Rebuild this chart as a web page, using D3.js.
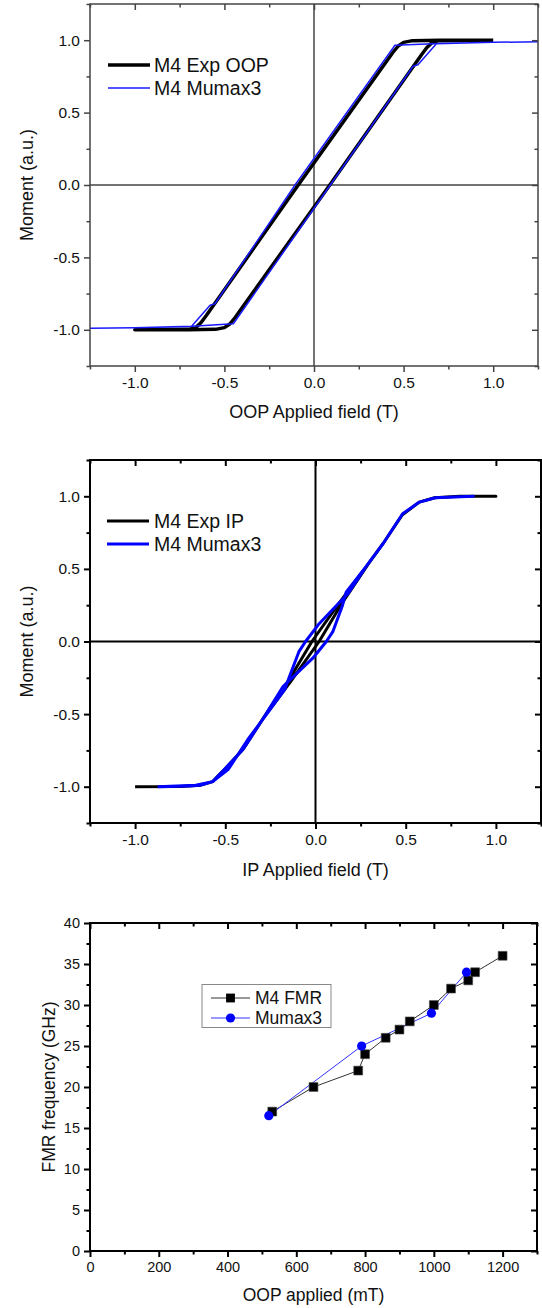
<!DOCTYPE html>
<html>
<head>
<meta charset="utf-8">
<script src="https://cdn.jsdelivr.net/npm/d3@7"></script>
<style>
html,body{margin:0;padding:0;background:#fff;}
svg{display:block;}
text{font-family:"Liberation Sans",Arial,Helvetica,sans-serif;fill:#111;}
</style>
</head>
<body>
<div id="chart"></div>
<script>
// ---------- DATA ----------
// Panel 1: OOP hysteresis (loop: descending branch then ascending branch)
const oopExpField  = [1.0, 0.7, 0.55, 0.5, 0.47, 0.44, -0.088, -0.6, -0.63, -0.66, -0.7, -1.0,
                      -0.7, -0.55, -0.5, -0.47, -0.44, 0.088, 0.6, 0.63, 0.66, 0.7, 1.0];
const oopExpMoment = [1.0, 1.0, 0.997, 0.985, 0.96, 0.915, 0.0, -0.9, -0.95, -0.985, -0.997, -1.0,
                      -1.0, -0.997, -0.985, -0.96, -0.915, 0.0, 0.9, 0.95, 0.985, 0.997, 1.0];
const oopSimField  = [1.25, 1.0, 0.7, 0.452, -0.106, -0.553, -0.58, -0.683, -1.0, -1.25,
                      -1.0, -0.7, -0.45, 0.091, 0.553, 0.58, 0.683, 1.0, 1.25];
const oopSimMoment = [0.99, 0.985, 0.978, 0.965, 0.0, -0.82, -0.83, -0.975, -0.985, -0.99,
                      -0.985, -0.978, -0.958, 0.0, 0.82, 0.83, 0.975, 0.985, 0.99];

// Panel 2: IP hysteresis
const ipExpField  = [-1.0, -0.75, -0.64, -0.57, -0.5, -0.4, -0.29, -0.14, 0.02, 0.15, 0.29, 0.375, 0.48, 0.575, 0.66, 0.8, 1.0,
                     0.8, 0.66, 0.575, 0.48, 0.375, 0.29, 0.14, -0.02, -0.15, -0.29, -0.4, -0.5, -0.57, -0.64, -0.75, -1.0];
const ipExpMoment = [-1.0, -0.998, -0.99, -0.965, -0.875, -0.74, -0.53, -0.28, 0.0, 0.27, 0.53, 0.675, 0.87, 0.96, 0.99, 1.0, 1.0,
                     1.0, 0.99, 0.96, 0.87, 0.675, 0.53, 0.28, 0.0, -0.27, -0.53, -0.74, -0.875, -0.965, -0.99, -0.998, -1.0];
const ipSimField  = [-0.875, -0.7, -0.64, -0.57, -0.5, -0.4, -0.29, -0.18, -0.015, 0.06, 0.097, 0.15, 0.17, 0.28, 0.375, 0.483, 0.576, 0.664, 0.875,
                     0.664, 0.576, 0.483, 0.375, 0.28, 0.18, 0.015, -0.055, -0.092, -0.15, -0.17, -0.28, -0.375, -0.483, -0.57, -0.664, -0.875];
const ipSimMoment = [-1.0, -0.995, -0.99, -0.965, -0.875, -0.74, -0.53, -0.31, -0.115, 0.0, 0.07, 0.25, 0.34, 0.515, 0.675, 0.88, 0.96, 0.99, 1.0,
                     0.99, 0.96, 0.88, 0.675, 0.515, 0.33, 0.115, 0.0, -0.07, -0.26, -0.33, -0.515, -0.675, -0.88, -0.965, -0.99, -1.0];

// Panel 3: FMR
const fmrField = [530, 650, 780, 800, 860, 900, 930, 1000, 1050, 1100, 1120, 1200];
const fmrFreq  = [17, 20, 22, 24, 26, 27, 28, 30, 32, 33, 34, 36];
const simField = [520, 790, 993, 1095];
const simFreq  = [16.5, 25, 29, 34];

// Tick labels
const fieldTicks = [-1.0, -0.5, 0.0, 0.5, 1.0];
const fieldTickLabels = ["-1.0", "-0.5", "0.0", "0.5", "1.0"];
const momentTicks = [-1.0, -0.5, 0.0, 0.5, 1.0];
const momentTickLabels = ["-1.0", "-0.5", "0.0", "0.5", "1.0"];
const fmrXTicks = [0, 200, 400, 600, 800, 1000, 1200];
const fmrXTickLabels = ["0", "200", "400", "600", "800", "1000", "1200"];
const fmrYTicks = [0, 5, 10, 15, 20, 25, 30, 35, 40];
const fmrYTickLabels = ["0", "5", "10", "15", "20", "25", "30", "35", "40"];

// Labels
const legend1 = ["M4 Exp OOP", "M4 Mumax3"];
const legend2 = ["M4 Exp IP", "M4 Mumax3"];
const legend3 = ["M4 FMR", "Mumax3"];

// ---------- DRAW ----------
const W = 542, H = 1308;
const svg = d3.select("#chart").append("svg").attr("width", W).attr("height", H);
svg.append("rect").attr("width", W).attr("height", H).attr("fill", "#fff");

function zip(a, b) { return a.map((v, i) => [v, b[i]]); }

function frame(g, x, y, o) {
  const [x0, x1] = x.range(), [y0, y1] = y.range(); // y0 bottom, y1 top
  const col = o.color, sw = o.sw;
  const style = sel => {
    sel.select(".domain").remove();
    sel.selectAll(".tick line").attr("stroke", col).attr("stroke-width", sw);
    sel.selectAll(".tick text").attr("font-size", o.tickFont).attr("fill", "#111")
       .attr("font-family", '"Liberation Sans",Arial,sans-serif');
  };
  g.append("g").attr("transform", `translate(0,${y0})`)
    .call(d3.axisBottom(x).tickValues(o.xTicks).tickSize(6).tickPadding(5).tickFormat((d, i) => o.xLabels[i]))
    .call(style);
  g.append("g").attr("transform", `translate(0,${y0})`)
    .call(d3.axisBottom(x).tickValues(o.xMinor).tickSize(3.5).tickFormat("")).call(style);
  g.append("g").attr("transform", `translate(0,${y1})`)
    .call(d3.axisTop(x).tickValues(o.xTicks).tickSize(-6).tickFormat("")).call(style);
  g.append("g").attr("transform", `translate(0,${y1})`)
    .call(d3.axisTop(x).tickValues(o.xMinor).tickSize(-3.5).tickFormat("")).call(style);
  g.append("g").attr("transform", `translate(${x0},0)`)
    .call(d3.axisLeft(y).tickValues(o.yTicks).tickSize(6).tickPadding(4).tickFormat((d, i) => o.yLabels[i]))
    .call(style);
  g.append("g").attr("transform", `translate(${x0},0)`)
    .call(d3.axisLeft(y).tickValues(o.yMinor).tickSize(3.5).tickFormat("")).call(style);
  g.append("g").attr("transform", `translate(${x1},0)`)
    .call(d3.axisRight(y).tickValues(o.yTicks).tickSize(-6).tickFormat("")).call(style);
  g.append("g").attr("transform", `translate(${x1},0)`)
    .call(d3.axisRight(y).tickValues(o.yMinor).tickSize(-3.5).tickFormat("")).call(style);
  g.append("rect").attr("x", x0).attr("y", y1).attr("width", x1 - x0).attr("height", y0 - y1)
    .attr("fill", "none").attr("stroke", col).attr("stroke-width", sw);
  g.append("text").attr("x", (x0 + x1) / 2).attr("y", o.xTitleY).attr("text-anchor", "middle")
    .attr("font-size", o.titleFont).text(o.xTitle);
  g.append("text").attr("transform", `translate(${o.yTitleX},${(y0 + y1) / 2}) rotate(-90)`)
    .attr("text-anchor", "middle").attr("font-size", o.titleFont).text(o.yTitle);
}

const minorField = [-1.25, -0.75, -0.25, 0.25, 0.75, 1.25];
const minorMoment = [-1.25, -0.75, -0.25, 0.25, 0.75, 1.25];

// ---- Panel 1 ----
{
  const x = d3.scaleLinear().domain([-1.25, 1.25]).range([90, 538]);
  const y = d3.scaleLinear().domain([-1.25, 1.25]).range([366, 4]);
  const g = svg.append("g");
  g.append("clipPath").attr("id", "c1").append("rect").attr("x", 90).attr("y", 4).attr("width", 448).attr("height", 362);
  const p = g.append("g").attr("clip-path", "url(#c1)");
  p.append("line").attr("x1", x(0)).attr("x2", x(0)).attr("y1", 4).attr("y2", 366).attr("stroke", "#444").attr("stroke-width", 1.5);
  p.append("line").attr("y1", y(0)).attr("y2", y(0)).attr("x1", 90).attr("x2", 538).attr("stroke", "#444").attr("stroke-width", 1.5);
  const line = d3.line().x(d => x(d[0])).y(d => y(d[1]));
  p.append("path").attr("d", line(zip(oopExpField, oopExpMoment))).attr("fill", "none")
    .attr("stroke", "#000").attr("stroke-width", 3.5).attr("stroke-linejoin", "round");
  p.append("path").attr("d", line(zip(oopSimField, oopSimMoment))).attr("fill", "none")
    .attr("stroke", "#1a1aff").attr("stroke-width", 1.5).attr("stroke-linejoin", "round");
  frame(g, x, y, {color: "#444", sw: 1.5, tickFont: 15.5, titleFont: 18,
    xTicks: fieldTicks, xLabels: fieldTickLabels, xMinor: minorField,
    yTicks: momentTicks, yLabels: momentTickLabels, yMinor: minorMoment,
    xTitle: "OOP Applied field (T)", xTitleY: 418, yTitle: "Moment (a.u.)", yTitleX: 33});
  const lg = g.append("g");
  [[legend1[0], "#000", 3.5, 65], [legend1[1], "#1a1aff", 1.5, 88]].forEach(([t, c, w, yy]) => {
    lg.append("line").attr("x1", 108).attr("x2", 150).attr("y1", yy).attr("y2", yy).attr("stroke", c).attr("stroke-width", w);
    lg.append("text").attr("x", 154).attr("y", yy).attr("dy", "0.35em").attr("font-size", 19.5).text(t);
  });
}

// ---- Panel 2 ----
{
  const x = d3.scaleLinear().domain([-1.25, 1.25]).range([90, 541]);
  const y = d3.scaleLinear().domain([-1.25, 1.25]).range([823, 460]);
  const g = svg.append("g");
  g.append("clipPath").attr("id", "c2").append("rect").attr("x", 90).attr("y", 460).attr("width", 451).attr("height", 363);
  const p = g.append("g").attr("clip-path", "url(#c2)");
  p.append("line").attr("x1", x(0)).attr("x2", x(0)).attr("y1", 460).attr("y2", 823).attr("stroke", "#000").attr("stroke-width", 2);
  p.append("line").attr("y1", y(0)).attr("y2", y(0)).attr("x1", 90).attr("x2", 541).attr("stroke", "#000").attr("stroke-width", 2);
  const line = d3.line().x(d => x(d[0])).y(d => y(d[1]));
  p.append("path").attr("d", line(zip(ipExpField, ipExpMoment))).attr("fill", "none")
    .attr("stroke", "#000").attr("stroke-width", 3).attr("stroke-linejoin", "round");
  p.append("path").attr("d", line(zip(ipSimField, ipSimMoment))).attr("fill", "none")
    .attr("stroke", "#0000ff").attr("stroke-width", 3).attr("stroke-linejoin", "round");
  frame(g, x, y, {color: "#000", sw: 2, tickFont: 15.5, titleFont: 18,
    xTicks: fieldTicks, xLabels: fieldTickLabels, xMinor: minorField,
    yTicks: momentTicks, yLabels: momentTickLabels, yMinor: minorMoment,
    xTitle: "IP Applied field (T)", xTitleY: 876, yTitle: "Moment (a.u.)", yTitleX: 33});
  const lg = g.append("g");
  [[legend2[0], "#000", 521], [legend2[1], "#0000ff", 544]].forEach(([t, c, yy]) => {
    lg.append("line").attr("x1", 107).attr("x2", 149).attr("y1", yy).attr("y2", yy).attr("stroke", c).attr("stroke-width", 3);
    lg.append("text").attr("x", 154).attr("y", yy).attr("dy", "0.35em").attr("font-size", 19.5).text(t);
  });
}

// ---- Panel 3 ----
{
  const x = d3.scaleLinear().domain([0, 1300]).range([90, 537]);
  const y = d3.scaleLinear().domain([0, 40]).range([1251, 923]);
  const g = svg.append("g");
  const line = d3.line().x(d => x(d[0])).y(d => y(d[1]));
  const fmr = zip(fmrField, fmrFreq), sim = zip(simField, simFreq);
  g.append("path").attr("d", line(fmr)).attr("fill", "none").attr("stroke", "#333").attr("stroke-width", 1);
  g.append("path").attr("d", line(sim)).attr("fill", "none").attr("stroke", "#3333ff").attr("stroke-width", 1);
  const sq = d3.symbol().type(d3.symbolSquare).size(78);
  g.selectAll(".sq").data(fmr).enter().append("path").attr("d", sq)
    .attr("transform", d => `translate(${x(d[0])},${y(d[1])})`).attr("fill", "#000").attr("stroke", "#444").attr("stroke-width", 0.6);
  g.selectAll(".ci").data(sim).enter().append("circle").attr("cx", d => x(d[0])).attr("cy", d => y(d[1]))
    .attr("r", 4.6).attr("fill", "#0000ff");
  frame(g, x, y, {color: "#000", sw: 2, tickFont: 14.5, titleFont: 17.5,
    xTicks: fmrXTicks, xLabels: fmrXTickLabels, xMinor: [100, 300, 500, 700, 900, 1100, 1300],
    yTicks: fmrYTicks, yLabels: fmrYTickLabels, yMinor: [2.5, 7.5, 12.5, 17.5, 22.5, 27.5, 32.5, 37.5],
    xTitle: "OOP applied (mT)", xTitleY: 1301, yTitle: "FMR frequency (GHz)", yTitleX: 55});
  const lg = g.append("g");
  lg.append("rect").attr("x", 202).attr("y", 984.5).attr("width", 129).attr("height", 43)
    .attr("fill", "#fff").attr("stroke", "#888").attr("stroke-width", 1);
  lg.append("line").attr("x1", 211).attr("x2", 250).attr("y1", 998).attr("y2", 998).attr("stroke", "#333").attr("stroke-width", 1);
  lg.append("path").attr("d", sq).attr("transform", "translate(230.5,998)").attr("fill", "#000");
  lg.append("text").attr("x", 255).attr("y", 998).attr("dy", "0.35em").attr("font-size", 17.5).text(legend3[0]);
  lg.append("line").attr("x1", 211).attr("x2", 250).attr("y1", 1018).attr("y2", 1018).attr("stroke", "#3333ff").attr("stroke-width", 1);
  lg.append("circle").attr("cx", 230.5).attr("cy", 1018).attr("r", 4.6).attr("fill", "#0000ff");
  lg.append("text").attr("x", 255).attr("y", 1018).attr("dy", "0.35em").attr("font-size", 17.5).text(legend3[1]);
}
</script>
</body>
</html>
